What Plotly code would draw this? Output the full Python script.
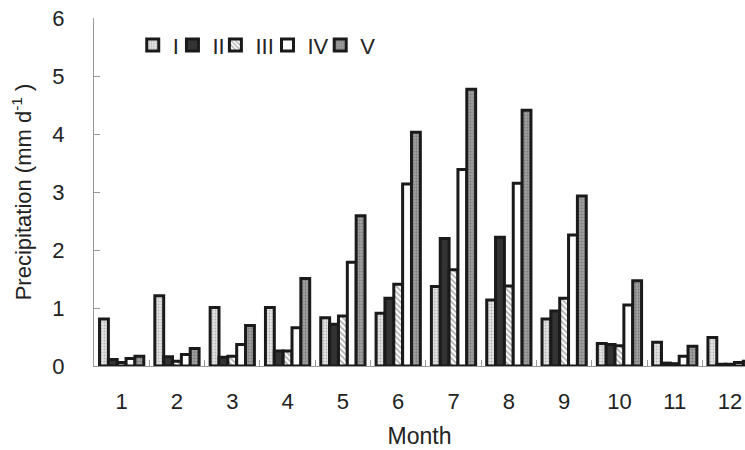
import plotly.graph_objects as go

months = ["1", "2", "3", "4", "5", "6", "7", "8", "9", "10", "11", "12"]
series_names = ["I", "II", "III", "IV", "V"]

precip_I = [0.81, 1.21, 1.01, 1.01, 0.83, 0.91, 1.37, 1.14, 0.81, 0.39, 0.41, 0.49]
precip_II = [0.11, 0.16, 0.15, 0.26, 0.72, 1.17, 2.20, 2.22, 0.95, 0.37, 0.05, 0.03]
precip_III = [0.06, 0.08, 0.17, 0.26, 0.86, 1.41, 1.66, 1.38, 1.17, 0.35, 0.04, 0.03]
precip_IV = [0.13, 0.20, 0.37, 0.66, 1.79, 3.14, 3.39, 3.15, 2.26, 1.05, 0.17, 0.06]
precip_V = [0.17, 0.30, 0.70, 1.51, 2.59, 4.03, 4.77, 4.41, 2.93, 1.47, 0.34, 0.08]

values = [precip_I, precip_II, precip_III, precip_IV, precip_V]

styles = [
    dict(color="#d9d9d9", pattern=dict(shape=".", fgcolor="#8a8a8a", bgcolor="#e4e4e4", size=3, solidity=0.35)),
    dict(color="#333333"),
    dict(color="white", pattern=dict(shape="\\", fgcolor="#555555", bgcolor="white", size=4, solidity=0.4)),
    dict(color="white"),
    dict(color="#8c8c8c", pattern=dict(shape=".", fgcolor="#5a5a5a", bgcolor="#a0a0a0", size=3, solidity=0.4)),
]

# each series gets its own one-item legend so the keys sit in a tight row
legend_ids = ["legend", "legend2", "legend3", "legend4", "legend5"]
legend_x = [0.0595, 0.1205, 0.1865, 0.2665, 0.3475]

font = "Liberation Sans, Arial, sans-serif"

fig = go.Figure()
for name, vals, st, lid in zip(series_names, values, styles, legend_ids):
    marker = dict(color=st["color"], line=dict(color="#1a1a1a", width=3))
    if "pattern" in st:
        marker["pattern"] = st["pattern"]
    fig.add_trace(go.Bar(x=months, y=vals, name=name, marker=marker, legend=lid))

legend_layout = {}
for lid, lx in zip(legend_ids, legend_x):
    legend_layout[lid] = dict(
        orientation="h",
        x=lx,
        y=0.982,
        xanchor="left",
        yanchor="top",
        bgcolor="rgba(0,0,0,0)",
        font=dict(size=22, color="#222222"),
        itemwidth=30,
    )

fig.update_layout(
    width=745,
    height=450,
    margin=dict(l=94, r=0, t=18, b=84),
    paper_bgcolor="white",
    plot_bgcolor="white",
    barmode="group",
    bargap=0.2,
    bargroupgap=0,
    font=dict(family=font, size=22, color="#222222"),
    showlegend=True,
    **legend_layout,
)

fig.update_xaxes(
    type="category",
    range=[-0.5, 11.27],
    tickson="boundaries",
    ticks="inside",
    ticklen=6,
    tickcolor="#999999",
    showline=True,
    linecolor="#999999",
    linewidth=1,
    showgrid=False,
    ticklabelstandoff=16,
    tickfont=dict(size=22),
    title=dict(text="Month", font=dict(size=23), standoff=14),
)

fig.update_yaxes(
    range=[0, 6],
    dtick=1,
    ticks="inside",
    ticklen=6,
    tickcolor="#999999",
    showline=True,
    linecolor="#999999",
    linewidth=1,
    showgrid=False,
    zeroline=False,
    ticklabelstandoff=24,
    tickfont=dict(size=22),
    title=dict(text="Precipitation (mm d<sup>-1</sup> )", font=dict(size=22), standoff=14),
)

fig.write_html("out.html")
